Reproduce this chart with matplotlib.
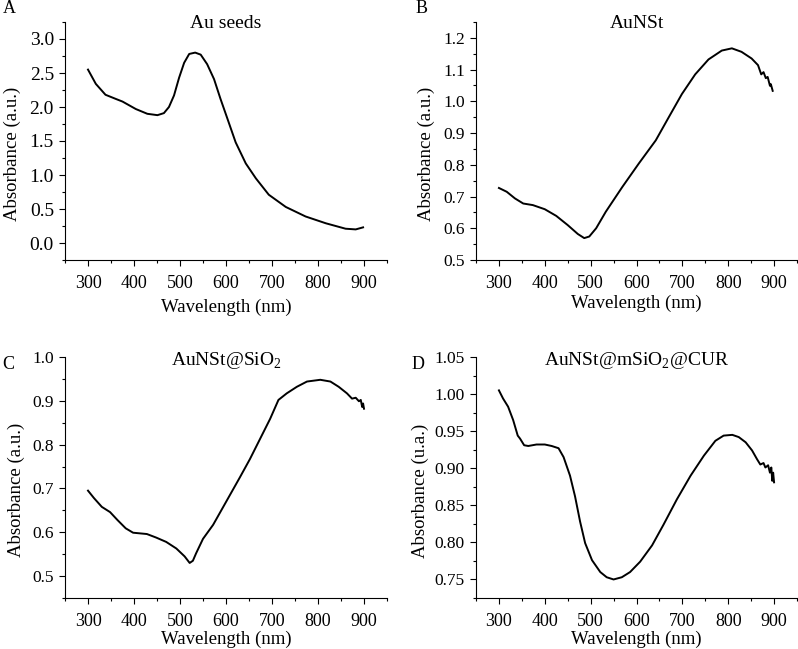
import matplotlib.pyplot as plt
from matplotlib.ticker import MultipleLocator

plt.rcParams['font.family'] = ['Liberation Serif', 'DejaVu Serif']
plt.rcParams['mathtext.fontset'] = 'custom'
plt.rcParams['mathtext.rm'] = 'Liberation Serif'

# Panel A: Au seeds
wl_a = [300, 317, 338, 360, 375, 404, 429, 451, 465, 476, 487, 498, 509, 520,
        533, 545, 559, 574, 588, 603, 621, 643, 665, 693, 730, 773, 817, 860,
        882, 898]
abs_a = [2.55, 2.34, 2.18, 2.12, 2.08, 1.97, 1.90, 1.88, 1.91, 2.00, 2.17, 2.43,
         2.65, 2.78, 2.80, 2.77, 2.63, 2.41, 2.12, 1.83, 1.48, 1.17, 0.95, 0.71,
         0.53, 0.39, 0.29, 0.21, 0.20, 0.23]

# Panel B: AuNSt
wl_b = [300, 317, 335, 353, 374, 400, 425, 450, 472, 486, 497, 512, 533, 569,
        605, 642, 670, 699, 728, 757, 786, 808, 829, 851, 865, 872, 877, 882,
        886, 891, 893, 897]
abs_b = [0.727, 0.715, 0.694, 0.678, 0.673, 0.660, 0.639, 0.610, 0.582, 0.569,
         0.574, 0.600, 0.652, 0.730, 0.804, 0.877, 0.949, 1.023, 1.085, 1.132,
         1.160, 1.167, 1.156, 1.135, 1.114, 1.085, 1.092, 1.073, 1.077, 1.049,
         1.054, 1.033]

# Panel C: AuNSt@SiO2
wl_c = [300, 313, 330, 348, 364, 382, 398, 428, 448, 470, 492, 510, 521, 528,
        535, 550, 572, 601, 630, 652, 674, 696, 714, 732, 754, 776, 805, 827,
        845, 863, 874, 882, 889, 893, 896, 898, 900]
abs_c = [0.695, 0.678, 0.658, 0.646, 0.628, 0.609, 0.599, 0.596, 0.588, 0.578,
         0.563, 0.545, 0.530, 0.535, 0.552, 0.585, 0.617, 0.671, 0.725, 0.767,
         0.813, 0.859, 0.902, 0.917, 0.932, 0.944, 0.948, 0.944, 0.932, 0.917,
         0.905, 0.907, 0.899, 0.902, 0.886, 0.894, 0.882]

# Panel D: AuNSt@mSiO2@CUR
wl_d = [300, 309, 320, 331, 341, 346, 355, 364, 382, 400, 415, 430, 441, 455,
        466, 477, 488, 503, 521, 535, 550, 568, 586, 608, 634, 659, 688, 718,
        747, 772, 790, 809, 823, 838, 852, 863, 870, 877, 881, 887, 891, 894,
        896, 898, 900]
abs_d = [1.005, 0.994, 0.983, 0.965, 0.944, 0.940, 0.931, 0.930, 0.932, 0.932,
         0.930, 0.927, 0.915, 0.890, 0.862, 0.828, 0.799, 0.776, 0.760, 0.753,
         0.750, 0.753, 0.760, 0.774, 0.796, 0.824, 0.858, 0.890, 0.917, 0.937,
         0.944, 0.945, 0.942, 0.935, 0.924, 0.912, 0.905, 0.907, 0.901, 0.904,
         0.894, 0.901, 0.883, 0.894, 0.881]

panels = [
    ('A', 'Au seeds', wl_a, abs_a, (-0.25, 3.25), 0.5, 0.25, '{x:.1f}', 'Absorbance (a.u.)'),
    ('B', 'AuNSt', wl_b, abs_b, (0.5, 1.25), 0.1, 0.05, '{x:.1f}', 'Absorbance (a.u.)'),
    ('C', 'AuNSt@SiO$_2$', wl_c, abs_c, (0.45, 1.0), 0.1, 0.05, '{x:.1f}', 'Absorbance (a.u.)'),
    ('D', 'AuNSt@mSiO$_2$@CUR', wl_d, abs_d, (0.725, 1.05), 0.05, 0.025, '{x:.2f}', 'Absorbance (u.a.)'),
]

W, H = 798, 649
fig = plt.figure(figsize=(W / 100, H / 100), dpi=100)

# axes boxes in pixels: left, right, top, bottom
boxes = [(65, 387, 22, 260), (476, 797, 22, 260), (65, 387, 357, 598), (476, 797, 357, 598)]
letter_pos = [(3, 13), (416, 13), (2, 369), (412, 369)]
title_y = [0.975, 0.975, 0.967, 0.967]
ylab_px = [(21, 154), (435, 154), (25, 490), (429, 491)]  # right edge x, centre y
xlab_top = [299, 295, 631, 631]

for i, (letter, title, x, y, ylim, major, minor, fmt, ylab) in enumerate(panels):
    l, r, t, b = boxes[i]
    ax = fig.add_axes([l / W, 1 - b / H, (r - l) / W, (b - t) / H])
    ax.plot(x, y, color='black', lw=1.4)
    ax.set_xlim(250, 950)
    ax.set_ylim(*ylim)
    ax.xaxis.set_major_locator(MultipleLocator(100))
    ax.xaxis.set_minor_locator(MultipleLocator(50))
    ax.yaxis.set_major_locator(MultipleLocator(major))
    ax.yaxis.set_minor_locator(MultipleLocator(minor))
    ax.yaxis.set_major_formatter(fmt)
    ax.xaxis.set_major_formatter('{x:.0f}')
    for s in ['top', 'right']:
        ax.spines[s].set_visible(False)
    ax.tick_params(which='major', direction='out', length=4, width=0.8, pad=4)
    ax.tick_params(which='minor', direction='out', length=2.5, width=0.8)
    ax.tick_params(axis='x', labelsize=13, pad=7)
    ax.tick_params(axis='y', labelsize=14 if i == 0 else 12.5)
    ax.set_xlabel('Wavelength (nm)', fontsize=13.5)
    ax.set_ylabel(ylab, fontsize=13.5)
    ax.yaxis.set_label_coords((ylab_px[i][0] - l) / (r - l), (b - ylab_px[i][1]) / (b - t))
    ax.xaxis.set_label_coords(0.5, (b - xlab_top[i]) / (b - t))
    ax.text(0.5, title_y[i], title, transform=ax.transAxes, ha='center',
            va='baseline', fontsize=14)
    lx, ly = letter_pos[i]
    fig.text(lx / W, 1 - ly / H, letter, fontsize=13, va='baseline', ha='left')

fig.savefig('out.png', dpi=100)
